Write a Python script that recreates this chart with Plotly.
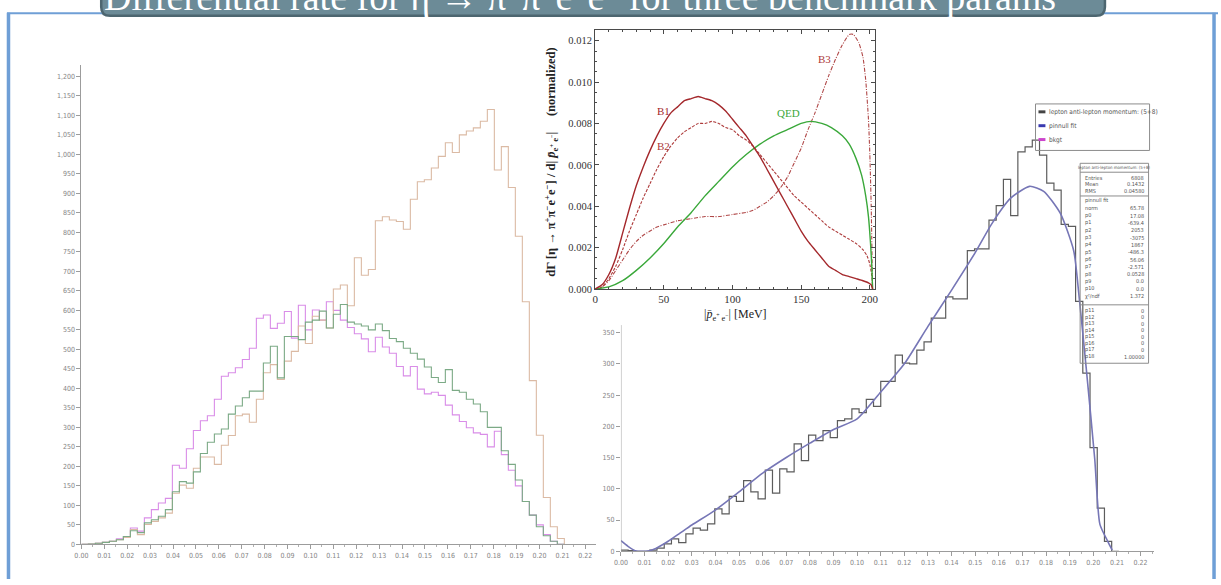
import numpy as np
import plotly.graph_objects as go

W, H = 1221, 585
def X(p): return p / W
def Y(p): return 1 - p / H

# ---------------- data ----------------
BIN_WIDTH = 0.22 / 72

tan_counts = [0, 1, 3, 5, 8, 12, 18, 38, 25, 51,
              59, 68, 80, 131, 152, 144, 195, 224, 224, 205,
              254, 279, 330, 334, 313, 372, 440, 461, 423, 470,
              495, 560, 515, 585, 575, 555, 655, 665, 612, 735,
              690, 705, 830, 840, 832, 828, 808, 885, 930, 935,
              965, 995, 1030, 1005, 1050, 1060, 1068, 1085, 1115, 960,
              1020, 915, 790, 622, 420, 280, 120, 45, 15]
green_counts = [0, 1, 3, 5, 8, 12, 20, 35, 30, 55,
                63, 72, 89, 135, 161, 157, 186, 233, 262, 283,
                296, 334, 355, 376, 393, 393, 465, 508, 427, 533,
                533, 525, 570, 575, 598, 555, 590, 615, 570, 565,
                560, 550, 565, 548, 528, 520, 503, 490, 475, 455,
                428, 415, 448, 395, 390, 372, 360, 340, 300, 300,
                240, 205, 165, 110, 75, 45, 22, 8, 0]
magenta_counts = [0, 1, 3, 5, 8, 14, 20, 42, 34, 68,
                  89, 106, 118, 203, 195, 245, 292, 317, 330, 372,
                  431, 440, 453, 474, 503, 580, 588, 554, 567, 597,
                  529, 613, 550, 601, 575, 622, 600, 575, 556, 540,
                  527, 494, 531, 506, 490, 456, 432, 456, 398, 386,
                  390, 382, 357, 332, 315, 299, 286, 282, 250, 290,
                  230, 190, 150, 110, 75, 50, 25, 8, 0]
right_counts = [2, 1, 0, 0, 2, 5, 12, 20, 14, 28,
                37, 34, 44, 68, 60, 88, 80, 113, 95, 84,
                130, 93, 132, 127, 172, 145, 186, 177, 193, 182,
                209, 212, 228, 222, 243, 232, 272, 272, 314, 301,
                300, 322, 335, 373, 373, 407, 404, 404, 481, 484,
                484, 530, 553, 595, 537, 639, 647, 658, 634, 589,
                578, 523, 520, 400, 285, 166, 69, 16, 0]

fit_x = [0.000, 0.003, 0.006, 0.009, 0.012, 0.015, 0.020, 0.025, 0.030, 0.040,
         0.050, 0.060, 0.070, 0.080, 0.090, 0.100, 0.110, 0.120, 0.130, 0.140,
         0.150, 0.157, 0.165, 0.173, 0.179, 0.186, 0.1917, 0.194, 0.197, 0.2006,
         0.2028, 0.2061, 0.208]
fit_y = [17, 8, 1, 0, 1, 5, 16, 29, 42, 66,
         95, 125, 150, 173, 195, 212, 255, 300, 360, 418,
         478, 524, 565, 584, 576, 541, 481, 407, 293, 148,
         43, 16, 2]

b1_mev = [0, 5, 10, 15, 20, 25, 30, 35, 40, 45, 50, 55, 60, 65, 70, 75, 80, 85, 90, 95,
          100, 105, 110, 115, 120, 125, 130, 135, 140, 145, 150, 155, 160, 165, 170,
          175, 180, 185, 190, 195, 199, 201, 202]
b1_val = [0, 0.0002, 0.0007, 0.0015, 0.0027, 0.0039, 0.0050, 0.0059, 0.0067, 0.0074,
          0.0080, 0.0085, 0.0088, 0.0091, 0.0092, 0.0093, 0.0092, 0.0091, 0.0089, 0.0086,
          0.0082, 0.0078, 0.0074, 0.0069, 0.0064, 0.0058, 0.0052, 0.0046, 0.0040, 0.0034,
          0.0028, 0.0023, 0.0019, 0.0015, 0.0011, 0.0009, 0.0007, 0.0006, 0.0005, 0.0004,
          0.0003, 0.0002, 0.0]
b2_mev = [0, 5, 10, 15, 20, 25, 30, 35, 40, 45, 50, 55, 60, 65, 70, 75, 80, 85, 90, 95,
          100, 105, 110, 115, 120, 125, 130, 135, 140, 145, 150, 155, 160, 165, 170,
          175, 180, 185, 190, 195, 198, 200, 201.5, 202]
b2_val = [0, 0.0001, 0.0005, 0.0011, 0.0019, 0.0028, 0.0036, 0.0044, 0.0051, 0.0058,
          0.0064, 0.0069, 0.0073, 0.0076, 0.0078, 0.0080, 0.0080, 0.0081, 0.0080, 0.0078,
          0.0077, 0.0074, 0.0072, 0.0069, 0.0065, 0.0061, 0.0057, 0.0053, 0.0049, 0.0045,
          0.0042, 0.0039, 0.0036, 0.0033, 0.0030, 0.0028, 0.0026, 0.0024, 0.0022, 0.0019,
          0.0016, 0.0012, 0.0006, 0.0]
b3_mev = [0, 5, 10, 15, 20, 25, 30, 35, 40, 45, 50, 55, 60, 70, 80, 90, 100, 110, 115,
          120, 125, 130, 135, 140, 145, 150, 155, 160, 165, 170, 175, 180, 185, 188,
          192, 195, 197, 199, 200, 201, 201.5, 202]
b3_val = [0, 0.0001, 0.0004, 0.0009, 0.0014, 0.0019, 0.0023, 0.0026, 0.0028, 0.0030,
          0.0031, 0.0032, 0.0033, 0.0034, 0.0035, 0.0035, 0.0036, 0.0037, 0.0038,
          0.0040, 0.0042, 0.0045, 0.0049, 0.0054, 0.0061, 0.0068, 0.0077, 0.0085,
          0.0094, 0.0103, 0.0111, 0.0118, 0.0123, 0.0123, 0.0119, 0.0112, 0.0101,
          0.0082, 0.0065, 0.0040, 0.0020, 0.0]
qed_mev = [0, 10, 20, 30, 40, 50, 60, 70, 80, 90, 100, 110, 120, 130, 140, 150, 157,
           165, 172, 180, 185, 190, 194, 197, 199, 200.5, 201.5, 202]
qed_val = [0, 0.0001, 0.0004, 0.0009, 0.0015, 0.0022, 0.0030, 0.0037, 0.0045, 0.0052,
           0.0059, 0.0065, 0.0070, 0.0074, 0.0077, 0.0080, 0.0081, 0.0080, 0.0078,
           0.0074, 0.0070, 0.0063, 0.0055, 0.0045, 0.0035, 0.0022, 0.0010, 0.0]

left_yticks = list(range(0, 1201, 50))
right_yticks = list(range(0, 351, 50))
x_ticks = [round(0.01 * i, 2) for i in range(23)]
inset_xticks = [0, 50, 100, 150, 200]
inset_yticks = [0.0, 0.002, 0.004, 0.006, 0.008, 0.010, 0.012]

# ---------------- figure ----------------
fig = go.Figure()
edges = np.arange(len(tan_counts) + 1) * BIN_WIDTH

def hist(counts, color, xa, ya, width=1.2):
    fig.add_trace(go.Scatter(x=edges, y=list(counts) + [0], mode="lines",
                             line=dict(shape="hv", color=color, width=width),
                             xaxis=xa, yaxis=ya, showlegend=False, hoverinfo="skip"))

hist(magenta_counts, "#d98de8", "x", "y", 1.1)
hist(tan_counts, "#dbbaa4", "x", "y", 1.1)
hist(green_counts, "#7caa86", "x", "y", 1.1)

hist(right_counts, "#5c5c5c", "x2", "y2", 1.2)
fig.add_trace(go.Scatter(x=fit_x, y=fit_y, mode="lines",
                         line=dict(shape="spline", smoothing=0.6, color="#7676b6", width=1.6),
                         xaxis="x2", yaxis="y2", showlegend=False, hoverinfo="skip"))

RED = "#a4282c"
fig.add_trace(go.Scatter(x=b3_mev, y=b3_val, mode="lines",
                         line=dict(shape="spline", smoothing=0.5, color="#b04848", width=1.1,
                                   dash="4px,1.5px,1px,1.5px"),
                         xaxis="x3", yaxis="y3", showlegend=False, hoverinfo="skip"))
fig.add_trace(go.Scatter(x=b2_mev, y=b2_val, mode="lines",
                         line=dict(shape="spline", smoothing=0.5, color="#ad3a3a", width=1.1,
                                   dash="3px,1.5px"),
                         xaxis="x3", yaxis="y3", showlegend=False, hoverinfo="skip"))
fig.add_trace(go.Scatter(x=qed_mev, y=qed_val, mode="lines",
                         line=dict(shape="spline", smoothing=0.5, color="#3aa83a", width=1.4),
                         xaxis="x3", yaxis="y3", showlegend=False, hoverinfo="skip"))
fig.add_trace(go.Scatter(x=b1_mev, y=b1_val, mode="lines",
                         line=dict(shape="spline", smoothing=0.5, color=RED, width=1.4),
                         xaxis="x3", yaxis="y3", showlegend=False, hoverinfo="skip"))

root_font = dict(family="Liberation Sans Narrow, DejaVu Sans Condensed, Liberation Sans",
                 size=7, color="#858585")
root_axis = dict(showline=True, linecolor="#9c9c9c", linewidth=1, ticks="outside",
                 ticklen=4, tickcolor="#9c9c9c", tickfont=root_font,
                 showgrid=False, zeroline=False)

fig.update_layout(
    width=W, height=H, margin=dict(l=0, r=0, t=0, b=0),
    paper_bgcolor="white", plot_bgcolor="rgba(0,0,0,0)",
    xaxis=dict(domain=[X(75), X(593.5)], range=[0, 0.2245], anchor="y",
               tickvals=x_ticks, tickformat=".2f",
               minor=dict(ticks="outside", ticklen=2, dtick=0.005, tickcolor="#b0b0b0"),
               **root_axis),
    yaxis=dict(domain=[Y(550), Y(65.4)], range=[0, 1230], anchor="x",
               tickvals=left_yticks, tickformat=",d", **root_axis),
    xaxis2=dict(domain=[X(619), X(1156)], range=[0, 0.2255], anchor="y2",
                tickvals=x_ticks, tickformat=".2f",
                minor=dict(ticks="outside", ticklen=2, dtick=0.005, tickcolor="#b0b0b0"),
                **root_axis),
    yaxis2=dict(domain=[Y(557), Y(102.4)], range=[0, 720], anchor="x2",
                tickvals=right_yticks, tickformat="d",
                **{**root_axis, "showline": False}),
    xaxis3=dict(domain=[X(593), X(875.5)], range=[0, 204], anchor="y3",
                showline=True, mirror="allticks", linecolor="#4a4a4a", linewidth=1.2,
                ticks="inside", ticklen=4, tickcolor="#4a4a4a", tickvals=inset_xticks,
                minor=dict(ticks="inside", ticklen=2, dtick=10, tickcolor="#4a4a4a"),
                tickfont=dict(family="Liberation Serif", size=11, color="#333"),
                showgrid=False, zeroline=False),
    yaxis3=dict(domain=[Y(292), Y(30)], range=[0, 0.01253], anchor="x3",
                showline=True, mirror="allticks", linecolor="#4a4a4a", linewidth=1.2,
                ticks="inside", ticklen=4, tickcolor="#4a4a4a", tickvals=inset_yticks,
                tickformat=".3f",
                minor=dict(ticks="inside", ticklen=2, dtick=0.0005, tickcolor="#4a4a4a"),
                tickfont=dict(family="Liberation Serif", size=10.5, color="#333"),
                showgrid=False, zeroline=False),
)

shapes = []
# right chart y-axis line (stops below the inset)
shapes.append(dict(type="line", xref="x2", yref="y2", x0=0, x1=0, y0=0, y1=362,
                   line=dict(color="#9c9c9c", width=1)))
# slide frame
FRAME = "#6f9fd6"
shapes.append(dict(type="line", xref="paper", yref="paper", x0=X(1.5), x1=X(1.5), y0=0, y1=Y(13),
                   line=dict(color=FRAME, width=3.5)))
shapes.append(dict(type="line", xref="paper", yref="paper", x0=X(1217), x1=X(1217), y0=0, y1=Y(13),
                   line=dict(color=FRAME, width=3.5)))
shapes.append(dict(type="line", xref="paper", yref="paper", x0=0, x1=X(100), y0=Y(13.5), y1=Y(13.5),
                   line=dict(color=FRAME, width=2)))
shapes.append(dict(type="line", xref="paper", yref="paper", x0=X(1100), x1=1, y0=Y(13.5), y1=Y(13.5),
                   line=dict(color=FRAME, width=2)))
# title banner with rounded bottom corners
bx0, bx1, byb, byt, r = 95, 1107, 16, -30, 9
path = (f"M {X(bx0)},{Y(byt)} L {X(bx0)},{Y(byb - r)} Q {X(bx0)},{Y(byb)} {X(bx0 + r)},{Y(byb)} "
        f"L {X(bx1 - r)},{Y(byb)} Q {X(bx1)},{Y(byb)} {X(bx1)},{Y(byb - r)} L {X(bx1)},{Y(byt)} Z")
shapes.append(dict(type="path", xref="paper", yref="paper", path=path,
                   fillcolor="#6c8b97", line=dict(color="#4d6670", width=2.5), layer="above"))
# ROOT legend box
shapes.append(dict(type="rect", xref="paper", yref="paper", x0=X(1037), x1=X(1152), y0=Y(152), y1=Y(105),
                   line=dict(color="#8c8c8c", width=1)))
for yy, col in [(113, "#444444"), (127, "#3a3ab0"), (141, "#cc44cc")]:
    shapes.append(dict(type="rect", xref="paper", yref="paper", x0=X(1040), x1=X(1047),
                       y0=Y(yy + 1.5), y1=Y(yy - 1.5), fillcolor=col, line=dict(width=0)))
# ROOT stats box
shapes.append(dict(type="rect", xref="paper", yref="paper", x0=X(1082), x1=X(1151), y0=Y(367), y1=Y(165),
                   line=dict(color="#8c8c8c", width=1)))
for yy in (174, 198, 308):
    shapes.append(dict(type="line", xref="paper", yref="paper", x0=X(1082), x1=X(1151), y0=Y(yy), y1=Y(yy),
                       line=dict(color="#8c8c8c", width=1)))
fig.update_layout(shapes=shapes)

ann = []
ann.append(dict(text="Differential rate for η → π<sup>+</sup>π<sup>−</sup>e<sup>+</sup>e<sup>−</sup> for three benchmark params",
                xref="paper", yref="paper", x=X(578), y=Y(-6), xanchor="center", yanchor="middle",
                showarrow=False, font=dict(family="Liberation Serif", size=38, color="white")))
# inset labels
lab_font = dict(family="Liberation Serif", size=11)
for t, xx, yy, col in [("B1", 50, 0.0086, RED), ("B2", 50, 0.0069, "#ad3a3a"),
                       ("B3", 167, 0.0111, "#ad3a3a"), ("QED", 141, 0.0085, "#3aa83a")]:
    ann.append(dict(text=t, xref="x3", yref="y3", x=xx, y=yy, showarrow=False,
                    font=dict(**lab_font, color=col)))
ann.append(dict(text="<b>dΓ [η → π<sup>+</sup>π<sup>−</sup>e<sup>+</sup>e<sup>−</sup>] / d| <i>p̄</i><sub>e<sup>+</sup> e<sup>−</sup></sub>|     (normalized)</b>",
                xref="paper", yref="paper", x=X(549), y=Y(164), xanchor="center", yanchor="middle",
                textangle=-90, showarrow=False,
                font=dict(family="Liberation Serif", size=12.5, color="#222")))
ann.append(dict(text="|<i>p̄</i><sub>e<sup>+</sup> e<sup>−</sup></sub>| [MeV]",
                xref="paper", yref="paper", x=X(735), y=Y(318), showarrow=False,
                font=dict(family="Liberation Serif", size=12, color="#222")))
# ROOT legend text
small = dict(family="Liberation Sans Narrow, DejaVu Sans Condensed, Liberation Sans", color="#555")
for t, yy in [("lepton anti-lepton momentum: (5+8)", 113), ("pinnull fit", 127), ("bkgt", 141)]:
    ann.append(dict(text=t, xref="paper", yref="paper", x=X(1049), y=Y(yy), xanchor="left",
                    yanchor="middle", showarrow=False, font=dict(**small, size=6.5)))
# ROOT stats text
ann.append(dict(text="lepton anti-lepton momentum: (5+8)", xref="paper", yref="paper", x=X(1116.5), y=Y(169.5),
                xanchor="center", yanchor="middle",
                showarrow=False, font=dict(**small, size=4.3)))
stat_rows = [("Entries", "6808", 179.5), ("Mean", "0.1432", 186), ("RMS", "0.04580", 192.5)]
fit_names = ["pinnull fit", "norm", "p0", "p1", "p2", "p3", "p4", "p5", "p6", "p7",
             "p8", "p9", "p10", "χ²/ndf"]
fit_vals = ["", "65.78", "17.08", "-639.4", "2053", "-3075", "1867", "-486.3",
            "56.06", "-2.571", "0.0528", "0.0", "0.0", "1.372"]
for i, (n, v) in enumerate(zip(fit_names, fit_vals)):
    stat_rows.append((n, v, 203 + i * 7.4))
for i in range(8):
    stat_rows.append(("p" + str(i + 11), "0" if i < 7 else "1.00000", 314 + i * 6.6))
for n, v, yy in stat_rows:
    ann.append(dict(text=n, xref="paper", yref="paper", x=X(1085), y=Y(yy), xanchor="left",
                    yanchor="middle", showarrow=False, font=dict(**small, size=5.5)))
    if v:
        ann.append(dict(text=v, xref="paper", yref="paper", x=X(1148), y=Y(yy), xanchor="right",
                        yanchor="middle", showarrow=False, font=dict(**small, size=5.5)))
fig.update_layout(annotations=ann)

fig.write_html("out.html")
